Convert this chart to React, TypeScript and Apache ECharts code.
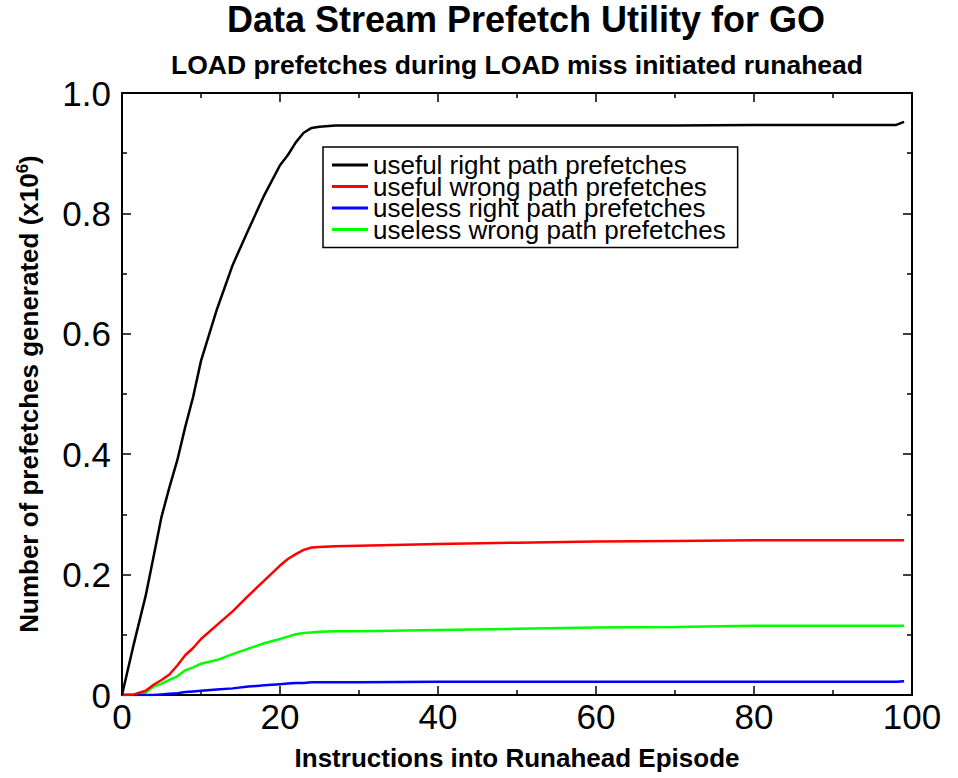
import React, { useEffect, useRef } from "react";
import * as echarts from "echarts";

const xValues = [0, 1.5, 3, 4, 5, 6, 7, 8, 9, 10, 12, 14, 16, 18, 20, 21, 22, 23, 24, 25, 27, 30, 40, 50, 60, 70, 80, 90, 98, 99];

const usefulRight = [0, 0.085, 0.165, 0.23, 0.296, 0.345, 0.39, 0.445, 0.495, 0.555, 0.64, 0.714, 0.773, 0.83, 0.88, 0.897, 0.918, 0.934, 0.942, 0.944, 0.946, 0.946, 0.946, 0.946, 0.946, 0.946, 0.947, 0.947, 0.947, 0.952];
const usefulWrong = [0, 0.001, 0.007, 0.017, 0.025, 0.034, 0.049, 0.066, 0.078, 0.093, 0.116, 0.139, 0.165, 0.19, 0.215, 0.226, 0.234, 0.241, 0.245, 0.246, 0.247, 0.248, 0.251, 0.253, 0.255, 0.256, 0.257, 0.257, 0.257, 0.257];
const uselessRight = [0, 0, 0, 0, 0.001, 0.002, 0.003, 0.005, 0.006, 0.007, 0.009, 0.011, 0.014, 0.016, 0.018, 0.019, 0.02, 0.02, 0.021, 0.021, 0.021, 0.021, 0.022, 0.022, 0.022, 0.022, 0.022, 0.022, 0.022, 0.023];
const uselessWrong = [0, 0, 0.004, 0.014, 0.019, 0.025, 0.031, 0.041, 0.046, 0.052, 0.058, 0.068, 0.077, 0.086, 0.093, 0.097, 0.101, 0.103, 0.104, 0.105, 0.106, 0.106, 0.108, 0.11, 0.112, 0.113, 0.115, 0.115, 0.115, 0.115];

const seriesNames = [
  "useful right path prefetches",
  "useful wrong path prefetches",
  "useless right path prefetches",
  "useless wrong path prefetches",
];
const seriesColors = ["#000000", "#ff0000", "#0000ff", "#00ff00"];
const seriesValues = [usefulRight, usefulWrong, uselessRight, uselessWrong];

const titleText = "Data Stream Prefetch Utility for GO";
const subtitleText = "LOAD prefetches during LOAD miss initiated runahead";
const xAxisName = "Instructions into Runahead Episode";

const FONT = "'Liberation Sans', Arial, Helvetica, sans-serif";

export default function App() {
  const ref = useRef<HTMLDivElement>(null);
  useEffect(() => {
    if (!ref.current) return;
    const chart = echarts.init(ref.current, null, { renderer: "svg" });
    const axisLine = { show: true, onZero: false, lineStyle: { color: "#000", width: 2 } };
    const axisTick = { show: true, inside: true, length: 9, lineStyle: { color: "#000", width: 1.5 } };
    const minorTick = { show: true, splitNumber: 2, length: 5, lineStyle: { color: "#000", width: 1.5 } };
    chart.setOption({
      animation: false,
      backgroundColor: "#fff",
      textStyle: { fontFamily: FONT },
      title: [
        {
          text: titleText,
          left: 521,
          top: -4,
          textAlign: "center",
          textStyle: { fontFamily: FONT, fontSize: 36, fontWeight: "bold", color: "#000" },
        },
        {
          text: subtitleText,
          left: 512,
          top: 46,
          textAlign: "center",
          textStyle: { fontFamily: FONT, fontSize: 26.5, fontWeight: "bold", color: "#000" },
        },
      ],
      legend: {
        orient: "vertical",
        left: 323,
        top: 147,
        icon: "rect",
        itemWidth: 36,
        itemHeight: 3,
        itemGap: -4.5,
        padding: [5, 12, 5, 9],
        borderColor: "#000",
        borderWidth: 1.5,
        backgroundColor: "#fff",
        textStyle: { fontFamily: FONT, fontSize: 26, color: "#000" },
        data: seriesNames,
      },
      grid: { left: 122, right: 46, top: 93, bottom: 83, containLabel: false },
      xAxis: [
        {
          type: "value",
          min: 0,
          max: 100,
          interval: 20,
          name: xAxisName,
          nameLocation: "middle",
          nameGap: 50,
          nameTextStyle: { fontFamily: FONT, fontSize: 26, fontWeight: "bold", color: "#000" },
          axisLine,
          axisTick,
          minorTick,
          splitLine: { show: false },
          axisLabel: { fontFamily: FONT, fontSize: 35, color: "#000", margin: 4 },
        },
        {
          type: "value",
          position: "top",
          min: 0,
          max: 100,
          interval: 20,
          axisLine,
          axisTick,
          minorTick,
          splitLine: { show: false },
          axisLabel: { show: false },
        },
      ],
      yAxis: [
        {
          type: "value",
          min: 0,
          max: 1,
          interval: 0.2,
          name: "{a|Number of prefetches generated (x10}{s|6}{a|)}",
          nameLocation: "middle",
          nameGap: 79,
          nameTextStyle: {
            fontFamily: FONT,
            fontSize: 26,
            fontWeight: "bold",
            color: "#000",
            rich: {
              a: { fontFamily: FONT, fontSize: 26, fontWeight: "bold", color: "#000" },
              s: { fontFamily: FONT, fontSize: 17, fontWeight: "bold", color: "#000", padding: [0, 0, 12, 0] },
            },
          },
          axisLine,
          axisTick,
          minorTick,
          splitLine: { show: false },
          axisLabel: {
            fontFamily: FONT,
            fontSize: 35,
            color: "#000",
            margin: 11,
            formatter: (v: number) => (v === 0 ? "0" : v.toFixed(1)),
          },
        },
        {
          type: "value",
          position: "right",
          min: 0,
          max: 1,
          interval: 0.2,
          axisLine,
          axisTick,
          minorTick,
          splitLine: { show: false },
          axisLabel: { show: false },
        },
      ],
      series: seriesNames.map((name, i) => ({
        name,
        type: "line",
        showSymbol: false,
        symbol: "none",
        smooth: false,
        color: seriesColors[i],
        lineStyle: { color: seriesColors[i], width: 2.5 },
        data: xValues.map((x, j) => [x, seriesValues[i][j]]),
        z: 10 - i,
      })),
    });
    return () => chart.dispose();
  }, []);
  return (
    <div
      ref={ref}
      style={{ position: "absolute", left: 0, top: 0, width: 958, height: 778, background: "#fff" }}
    />
  );
}
